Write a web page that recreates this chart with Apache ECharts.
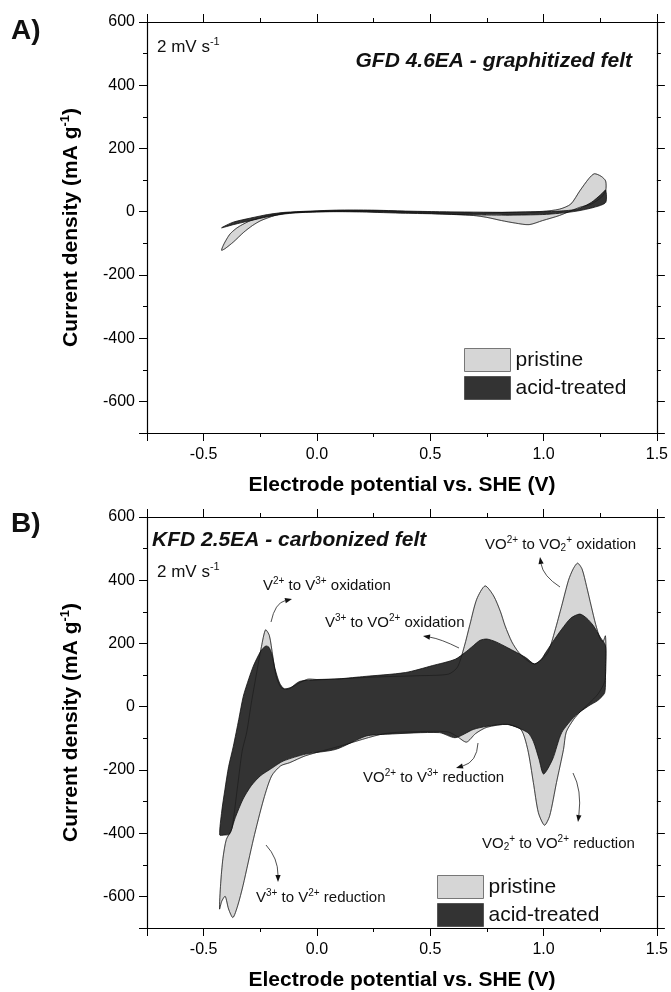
<!DOCTYPE html>
<html><head><meta charset="utf-8">
<script src="https://cdn.jsdelivr.net/npm/echarts@6/dist/echarts.min.js"></script>
<style>html,body{margin:0;padding:0;background:#fff}#c{width:671px;height:992px}</style>
</head><body><div id="c"></div>
<script>
// ---------- data ----------
const xTickLabels = ['-0.5', '0.0', '0.5', '1.0', '1.5'];
const yTickLabels = [600, 400, 200, 0, -200, -400, -600];
const seriesNames = ['pristine', 'acid-treated'];

// Panel A (GFD 4.6EA) – closed CV loops [potential V, current mA/g]
const pristineA = [[-0.421,-122],[-0.413,-106],[-0.398,-86],[-0.383,-70],[-0.360,-55],[-0.337,-44],[-0.292,-28],[-0.232,-16],[-0.171,-7],[-0.10,-2],[0.086,3],[0.25,3],[0.39,0],[0.55,-3],[0.69,-5],[0.845,-2],[0.996,1],[1.07,8],[1.12,24],[1.16,66],[1.20,105],[1.224,120],[1.254,112],[1.274,97],[1.274,66],[1.254,45],[1.21,24],[1.16,14],[1.07,-12],[0.996,-28],[0.936,-41],[0.875,-36],[0.814,-28],[0.75,-18],[0.69,-12],[0.54,-7],[0.39,-2],[0.2,1],[0.086,1],[-0.05,-1],[-0.141,-5],[-0.186,-12],[-0.247,-28],[-0.285,-44],[-0.323,-65],[-0.369,-96],[-0.406,-117]];
const acidA = [[-0.421,-51],[-0.369,-33],[-0.292,-20],[-0.217,-9],[-0.141,-2],[0.086,5],[0.24,5],[0.39,2],[0.54,0],[0.845,-2],[1.0,0],[1.07,2],[1.148,8],[1.21,29],[1.254,55],[1.274,68],[1.274,29],[1.224,14],[1.148,2],[1.07,-5],[0.996,-9],[0.85,-11],[0.69,-10],[0.54,-7],[0.39,-5],[0.2,-1],[0.086,0],[-0.05,-2],[-0.141,-7],[-0.217,-16],[-0.292,-28],[-0.369,-41]];

// Panel B (KFD 2.5EA)
const pristineB = [[-0.43,-640],[-0.425,-560],[-0.415,-480],[-0.40,-420],[-0.376,-387],[-0.35,-250],[-0.33,-140],[-0.31,-81],[-0.29,10],[-0.266,108],[-0.245,190],[-0.227,243],[-0.21,225],[-0.195,160],[-0.18,95],[-0.16,62],[-0.144,56],[-0.11,62],[-0.07,78],[-0.04,87],[0.0,86],[0.1,88],[0.2,92],[0.3,95],[0.45,98],[0.58,103],[0.62,125],[0.65,190],[0.675,260],[0.705,340],[0.742,382],[0.78,350],[0.81,300],[0.83,256],[0.86,205],[0.89,172],[0.93,145],[0.96,135],[0.99,148],[1.02,172],[1.05,240],[1.08,319],[1.11,400],[1.13,435],[1.15,454],[1.17,435],[1.19,380],[1.21,319],[1.23,260],[1.25,214],[1.262,205],[1.273,224],[1.275,150],[1.27,80],[1.24,40],[1.2,10],[1.163,-15],[1.133,-40],[1.1,-80],[1.088,-135],[1.057,-240],[1.027,-345],[1.004,-375],[0.977,-335],[0.955,-240],[0.93,-135],[0.9,-72],[0.84,-56],[0.75,-65],[0.70,-85],[0.66,-112],[0.62,-95],[0.58,-80],[0.5,-78],[0.3,-85],[0.1,-125],[-0.05,-155],[-0.12,-177],[-0.16,-187],[-0.2,-219],[-0.235,-292],[-0.28,-418],[-0.326,-565],[-0.35,-630],[-0.371,-667],[-0.39,-640],[-0.405,-600],[-0.42,-615]];
const acidB = [[-0.429,-406],[-0.42,-330],[-0.406,-261],[-0.39,-190],[-0.369,-125],[-0.345,-40],[-0.325,33],[-0.30,90],[-0.281,128],[-0.26,160],[-0.244,180],[-0.225,192],[-0.212,188],[-0.2,168],[-0.185,120],[-0.165,75],[-0.144,56],[-0.12,58],[-0.076,80],[0.0,85],[0.08,87],[0.2,95],[0.39,108],[0.51,130],[0.61,150],[0.66,175],[0.69,193],[0.72,210],[0.75,214],[0.79,205],[0.84,187],[0.92,156],[0.96,135],[0.99,150],[1.01,172],[1.05,215],[1.08,245],[1.12,280],[1.16,293],[1.19,280],[1.22,256],[1.25,220],[1.273,193],[1.273,120],[1.27,45],[1.24,20],[1.2,3],[1.14,-29],[1.08,-82],[1.04,-166],[1.0,-213],[0.98,-166],[0.955,-110],[0.93,-82],[0.84,-56],[0.75,-62],[0.69,-72],[0.61,-98],[0.54,-82],[0.31,-87],[0.217,-93],[0.083,-135],[-0.05,-150],[-0.149,-172],[-0.2,-195],[-0.25,-219],[-0.29,-250],[-0.326,-292],[-0.36,-350],[-0.386,-403],[-0.41,-406]];

// ---------- styling ----------
const FONT = 'Liberation Sans, Arial, sans-serif';
const GRAY = '#d6d6d6', GRAY_LINE = '#4a4a4a', DARK = '#333333', DARK_LINE = '#111111';
const grids = [
  {left: 147, top: 22, width: 511, height: 411},
  {left: 147, top: 517, width: 511, height: 412}
];

function fmtX(v) {
  const hit = xTickLabels.find(l => Math.abs(parseFloat(l) - v) < 1e-6);
  return hit === undefined ? '' : hit;
}
function fmtY(v) {
  const r = Math.round(v);
  return yTickLabels.includes(r) ? String(r) : '';
}
const lineStyle = {color: '#000', width: 1.2};
const tickStyle = {color: '#000', width: 1};

const xAxis = [], yAxis = [];
grids.forEach((g, gi) => {
  const baseX = {gridIndex: gi, type: 'value', min: -0.75, max: 1.5, interval: 0.25,
    splitLine: {show: false}, axisLine: {onZero: false, lineStyle}, axisTick: {length: 4, lineStyle: tickStyle}};
  const majX = {gridIndex: gi, type: 'value', min: 0, max: 2.25, interval: 0.5, inverse: true,
    splitLine: {show: false}, axisLine: {show: false, onZero: false}, axisLabel: {show: false},
    axisTick: {length: 8, lineStyle: tickStyle}};
  xAxis.push(Object.assign({}, baseX, {position: 'bottom',
    axisLabel: {margin: 14, fontSize: 16, color: '#000', fontFamily: FONT, formatter: fmtX},
    name: 'Electrode potential vs. SHE (V)', nameLocation: 'middle', nameGap: 42,
    nameTextStyle: {fontSize: 21, fontWeight: 'bold', color: '#000', fontFamily: FONT}}));
  xAxis.push(Object.assign({}, majX, {position: 'bottom'}));
  xAxis.push(Object.assign({}, baseX, {position: 'top', axisLabel: {show: false}}));
  xAxis.push(Object.assign({}, majX, {position: 'top'}));

  const baseY = {gridIndex: gi, type: 'value', min: -700, max: 600, interval: 100,
    splitLine: {show: false}, axisLine: {onZero: false, lineStyle}, axisTick: {length: 4, lineStyle: tickStyle}};
  const majY = {gridIndex: gi, type: 'value', min: 0, max: 1300, interval: 200, inverse: true,
    splitLine: {show: false}, axisLine: {show: false, onZero: false}, axisLabel: {show: false},
    axisTick: {length: 8, lineStyle: tickStyle}};
  yAxis.push(Object.assign({}, baseY, {position: 'left',
    axisLabel: {margin: 12, fontSize: 16, color: '#000', fontFamily: FONT, formatter: fmtY},
    name: 'Current density (mA g{sup|-1})', nameLocation: 'middle', nameGap: 63, nameRotate: 90,
    nameTextStyle: {fontSize: 21, fontWeight: 'bold', color: '#000', fontFamily: FONT,
      rich: {sup: {fontSize: 13, fontWeight: 'bold', color: '#000', fontFamily: FONT, padding: [0, 0, 12, 0]}}}}));
  yAxis.push(Object.assign({}, majY, {position: 'left'}));
  yAxis.push(Object.assign({}, baseY, {position: 'right', axisLabel: {show: false}}));
  yAxis.push(Object.assign({}, majY, {position: 'right'}));
});

function loop(name, pts, gi, fill, stroke, lw, z, outlineOnly) {
  return {
    type: 'custom', name: name, xAxisIndex: gi * 4, yAxisIndex: gi * 4, z: z,
    data: pts, encode: {x: 0, y: 1}, silent: true,
    itemStyle: {color: fill === 'none' ? GRAY : fill, borderColor: stroke},
    renderItem: function (params, api) {
      if (params.dataIndex !== 0) return;
      const points = pts.map(p => api.coord(p));
      return {type: 'polygon', shape: {points: points, smooth: 0.25},
        style: {fill: outlineOnly ? null : fill, stroke: stroke, lineWidth: lw, opacity: outlineOnly ? 0.55 : 1}};
    }
  };
}

const series = [
  loop('pristine', pristineA, 0, GRAY, GRAY_LINE, 0.8, 2),
  loop('acid-treated', acidA, 0, DARK, DARK_LINE, 0.8, 3),
  loop('pristine-line', pristineA, 0, 'none', '#000', 0.6, 4, true),
  loop('pristine', pristineB, 1, GRAY, GRAY_LINE, 0.8, 2),
  loop('acid-treated', acidB, 1, DARK, DARK_LINE, 0.8, 3),
  loop('pristine-line', pristineB, 1, 'none', '#000', 0.6, 4, true)
];

const legendData = [
  {name: seriesNames[0], icon: 'rect', itemStyle: {color: GRAY, borderColor: '#777', borderWidth: 1}},
  {name: seriesNames[1], icon: 'rect', itemStyle: {color: DARK, borderColor: '#555', borderWidth: 1}}
];
const legendBase = {orient: 'vertical', itemWidth: 46, itemHeight: 23, itemGap: 4, padding: 0,
  selectedMode: false, data: legendData,
  textStyle: {fontSize: 21, color: '#111', fontFamily: FONT, lineHeight: 23}};

// ---------- annotations ----------
const RICH = {
  n: {font: '15px ' + FONT, fill: '#111'},
  sup: {font: '10px ' + FONT, fill: '#111', padding: [0, 0, 9, 0]},
  sub: {font: '10px ' + FONT, fill: '#111', padding: [7, 0, 0, 0]},
  m: {font: '17px ' + FONT, fill: '#111'},
  msup: {font: '11px ' + FONT, fill: '#111', padding: [0, 0, 11, 0]}
};
function txt(text, x, y, font, align) {
  return {type: 'text', z: 100, silent: true, x: x, y: y,
    style: {text: text, font: font, fill: '#111', align: align || 'left', textAlign: align || 'left',
      verticalAlign: 'middle', textVerticalAlign: 'middle', rich: RICH}};
}
function arrow(x1, y1, cx, cy, x2, y2) {
  const dx = x2 - cx, dy = y2 - cy, L = Math.hypot(dx, dy) || 1;
  const ux = dx / L, uy = dy / L, hl = 7, hw = 2.6;
  const bx = x2 - ux * hl, by = y2 - uy * hl;
  return [
    {type: 'bezierCurve', z: 100, silent: true, shape: {x1: x1, y1: y1, cpx1: cx, cpy1: cy, x2: bx, y2: by},
      style: {stroke: '#222', lineWidth: 0.8, fill: null}},
    {type: 'polygon', z: 100, silent: true, shape: {points: [[x2, y2], [bx - uy * hw, by + ux * hw], [bx + uy * hw, by - ux * hw]]},
      style: {fill: '#111'}}
  ];
}
const graphics = [
  txt('A)', 11, 31, 'bold 28px ' + FONT),
  txt('{m|2 mV s}{msup|-1}', 157, 47, '17px ' + FONT),
  txt('GFD 4.6EA - graphitized felt', 632, 61, 'italic bold 21px ' + FONT, 'right'),
  txt('B)', 11, 524, 'bold 28px ' + FONT),
  txt('KFD 2.5EA - carbonized felt', 152, 540, 'italic bold 21px ' + FONT),
  txt('{m|2 mV s}{msup|-1}', 157, 572, '17px ' + FONT),
  txt('{n|VO}{sup|2+}{n| to VO}{sub|2}{sup|+}{n| oxidation}', 485, 545, '15px ' + FONT),
  txt('{n|V}{sup|2+}{n| to V}{sup|3+}{n| oxidation}', 263, 586, '15px ' + FONT),
  txt('{n|V}{sup|3+}{n| to VO}{sup|2+}{n| oxidation}', 325, 623, '15px ' + FONT),
  txt('{n|VO}{sup|2+}{n| to V}{sup|3+}{n| reduction}', 363, 778, '15px ' + FONT),
  txt('{n|VO}{sub|2}{sup|+}{n| to VO}{sup|2+}{n| reduction}', 482, 844, '15px ' + FONT),
  txt('{n|V}{sup|3+}{n| to V}{sup|2+}{n| reduction}', 256, 898, '15px ' + FONT)
].concat(
  arrow(271, 622, 275, 603, 292, 599),
  arrow(459, 648, 441, 639, 423, 636),
  arrow(560, 587, 543, 576, 540, 557),
  arrow(478, 743, 477, 762, 456, 768),
  arrow(573, 773, 582, 790, 578, 822),
  arrow(266, 845, 278, 858, 278, 882)
);

const chart = echarts.init(document.getElementById('c'), null, {renderer: 'canvas'});
chart.setOption({
  animation: false,
  backgroundColor: '#fff',
  grid: grids.map(g => Object.assign({containLabel: false}, g)),
  xAxis: xAxis,
  yAxis: yAxis,
  legend: [
    Object.assign({}, legendBase, {left: 464, top: 348}),
    Object.assign({}, legendBase, {left: 437, top: 875})
  ],
  series: series,
  graphic: {elements: graphics}
});
</script>
</body></html>
